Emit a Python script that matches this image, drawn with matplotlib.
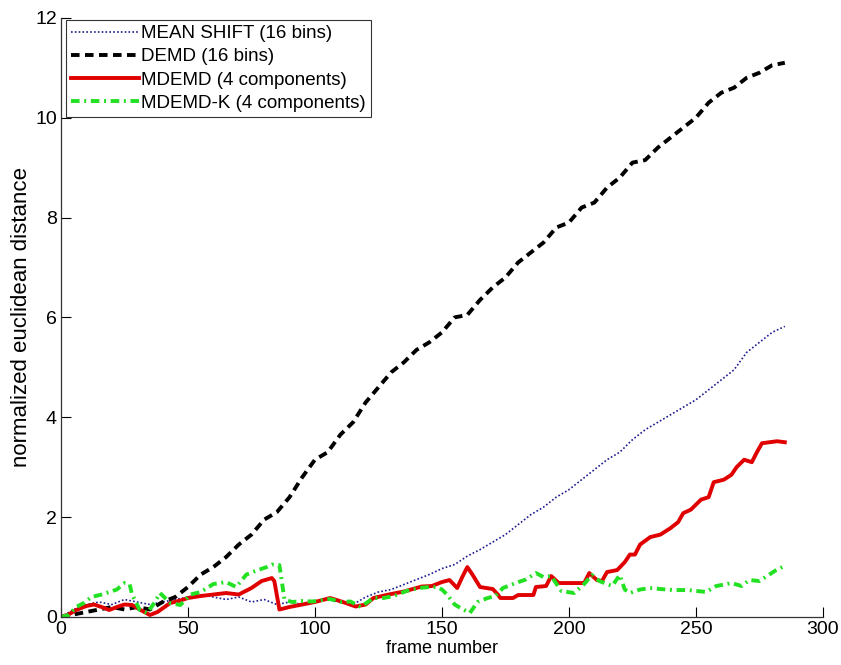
import matplotlib
matplotlib.use("Agg")
import matplotlib.pyplot as plt

# ---------------- data ----------------
ms_frames = list(range(0, 286, 5))
ms_values = [0.0, 0.15, 0.25, 0.3, 0.25, 0.35, 0.3, 0.25, 0.3, 0.35,
             0.4, 0.45, 0.4, 0.35, 0.4, 0.3, 0.35, 0.25, 0.3, 0.25,
             0.3, 0.35, 0.3, 0.25, 0.4, 0.5, 0.55, 0.65, 0.75, 0.85,
             0.97, 1.05, 1.22, 1.35, 1.5, 1.65, 1.85, 2.05, 2.2, 2.4,
             2.55, 2.75, 2.95, 3.15, 3.3, 3.55, 3.75, 3.9, 4.05, 4.2,
             4.35, 4.55, 4.75, 4.95, 5.3, 5.5, 5.7, 5.82]

demd_frames = list(range(0, 286, 5))
demd_values = [0.0, 0.05, 0.1, 0.15, 0.2, 0.15, 0.2, 0.15, 0.3, 0.4,
               0.6, 0.85, 1.0, 1.2, 1.45, 1.65, 1.95, 2.1, 2.4, 2.8,
               3.15, 3.3, 3.65, 3.9, 4.3, 4.6, 4.9, 5.1, 5.35, 5.5,
               5.7, 6.0, 6.05, 6.35, 6.6, 6.8, 7.1, 7.3, 7.5, 7.8,
               7.9, 8.2, 8.3, 8.6, 8.8, 9.1, 9.15, 9.4, 9.6, 9.8,
               10.0, 10.3, 10.5, 10.6, 10.8, 10.9, 11.05, 11.1]

mdemd_frames = [0, 3, 6, 10, 13, 16, 19, 22, 25, 28, 31, 35, 38, 43, 47,
                50, 55, 60, 65, 70, 75, 79, 83, 84, 86, 90, 94, 100, 106,
                111, 116, 120, 123, 129, 135, 142, 146, 150, 153, 156, 158,
                160, 162, 165, 170, 172, 173, 178, 180, 186, 187, 191, 193,
                196, 206, 208, 211, 213, 215, 219, 222, 224, 226, 228, 232,
                236, 240, 243, 245, 248, 252, 255, 257, 261, 264, 266, 269,
                272, 274, 276, 279, 282, 285]
mdemd_values = [0.0, 0.05, 0.14, 0.22, 0.25, 0.2, 0.14, 0.2, 0.25, 0.24,
                0.15, 0.04, 0.1, 0.28, 0.33, 0.38, 0.42, 0.45, 0.48, 0.45,
                0.58, 0.72, 0.78, 0.72, 0.15, 0.2, 0.24, 0.3, 0.38, 0.3,
                0.21, 0.25, 0.38, 0.45, 0.51, 0.61, 0.62, 0.7, 0.74, 0.58,
                0.8, 1.0, 0.85, 0.6, 0.56, 0.45, 0.38, 0.38, 0.44, 0.44,
                0.6, 0.62, 0.82, 0.68, 0.68, 0.88, 0.74, 0.72, 0.9, 0.94,
                1.1, 1.25, 1.25, 1.45, 1.6, 1.65, 1.78, 1.9, 2.08, 2.15,
                2.35, 2.4, 2.7, 2.75, 2.85, 3.0, 3.15, 3.1, 3.3, 3.48,
                3.5, 3.52, 3.5]

mdemdk_frames = [0, 3, 6, 9, 12, 16, 19, 22, 25, 27, 28, 31, 34, 37, 39, 43,
                 47, 51, 55, 60, 65, 69, 73, 77, 81, 83, 86, 88, 91, 95, 99,
                 103, 106, 110, 114, 118, 123, 127, 131, 136, 141, 145, 148,
                 150, 152, 155, 158, 161, 164, 168, 171, 174, 179, 183, 187,
                 190, 193, 197, 202, 206, 209, 212, 217, 220, 222, 224, 228,
                 232, 236, 241, 247, 254, 258, 264, 268, 271, 275, 278, 281,
                 284]
mdemdk_values = [0.0, 0.04, 0.2, 0.28, 0.4, 0.45, 0.5, 0.55, 0.68, 0.66,
                 0.45, 0.14, 0.08, 0.3, 0.48, 0.28, 0.24, 0.45, 0.5, 0.66,
                 0.7, 0.6, 0.85, 0.93, 1.0, 1.05, 1.04, 0.35, 0.3, 0.32,
                 0.31, 0.34, 0.36, 0.3, 0.31, 0.2, 0.38, 0.38, 0.42, 0.52,
                 0.58, 0.6, 0.6, 0.55, 0.45, 0.25, 0.16, 0.08, 0.3, 0.38,
                 0.42, 0.58, 0.68, 0.75, 0.88, 0.8, 0.82, 0.52, 0.48, 0.66,
                 0.84, 0.72, 0.62, 0.84, 0.55, 0.48, 0.55, 0.58, 0.56, 0.54,
                 0.54, 0.5, 0.62, 0.68, 0.62, 0.74, 0.72, 0.82, 0.92, 1.0]

labels = ["MEAN SHIFT (16 bins)", "DEMD (16 bins)",
          "MDEMD (4 components)", "MDEMD-K (4 components)"]
x_ticks = [0, 50, 100, 150, 200, 250, 300]
y_ticks = [0, 2, 4, 6, 8, 10, 12]

# ---------------- plot ----------------
plt.rcParams['font.family'] = ['Liberation Sans', 'DejaVu Sans']
fig = plt.figure(figsize=(8.41, 6.65), dpi=100)
ax = fig.add_axes([0.0725, 0.0722, 0.906, 0.901])

ax.plot(ms_frames, ms_values, color='#1c1c90', lw=1.2, dashes=(1.0, 1.3),
        label=labels[0])
ax.plot(demd_frames, demd_values, color='black', lw=2.8, dashes=(2.2, 1.4),
        label=labels[1])
ax.plot(mdemd_frames, mdemd_values, color='#e00000', lw=2.8, label=labels[2])
ax.plot(mdemdk_frames, mdemdk_values, color='#22e022', lw=2.8,
        dashes=(2.2, 1.2, 0.5, 1.2), label=labels[3])

ax.set_xlim(0, 300)
ax.set_ylim(0, 12)
ax.set_xticks(x_ticks)
ax.set_yticks(y_ticks)
ax.tick_params(direction='in', length=7, width=0.8, labelsize=14,
               colors='black', pad=3)
for s in ['top', 'right']:
    ax.spines[s].set_visible(False)
for s in ['left', 'bottom']:
    ax.spines[s].set_color('#333333')
    ax.spines[s].set_linewidth(0.9)

ax.set_xlabel('frame number', fontsize=13, labelpad=1)
ax.set_ylabel('normalized euclidean distance', fontsize=16, labelpad=2)

leg = ax.legend(loc='upper left', bbox_to_anchor=(0.006, 0.997),
                fontsize=13.5, frameon=True, fancybox=False, handlelength=3.6,
                handletextpad=0.1, labelspacing=0.32, borderpad=0.3,
                borderaxespad=0.0)
leg.get_frame().set_edgecolor('black')
leg.get_frame().set_linewidth(0.8)

fig.savefig('out.png', dpi=100)
